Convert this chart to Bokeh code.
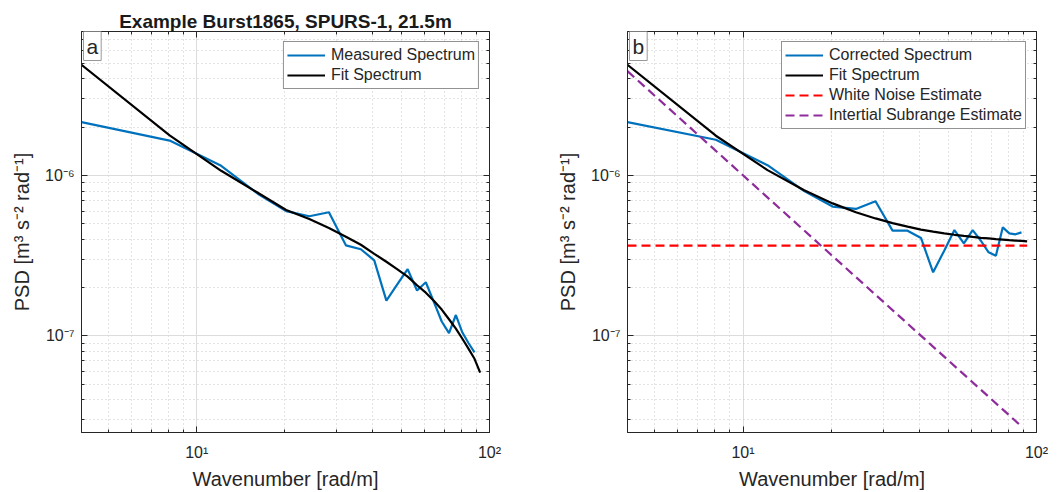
from bokeh.plotting import figure
from bokeh.layouts import row
from bokeh.models import FixedTicker, CustomJSTickFormatter, LogAxis, Label, Range1d
from bokeh.embed import file_html
from bokeh.resources import INLINE

# ---------------- data ----------------
k = [4.04, 8.08, 12.12, 16.16, 20.2, 24.24, 28.28, 32.32, 36.36, 40.4, 44.44,
     48.48, 52.52, 56.56, 60.6, 64.64, 68.68, 72.72, 76.76, 80.8, 84.84, 88.88]
k_fit = [4.04, 8.08, 12.12, 16.16, 20.2, 24.24, 28.28, 32.32, 36.36, 40.4, 44.44,
         48.48, 52.52, 56.56, 60.6, 64.64, 68.68, 72.72, 76.76, 80.8, 84.84, 88.88, 92.92]

measured = [2.15e-6, 1.65e-6, 1.15e-6, 7.7e-7, 6.0e-7, 5.57e-7, 5.9e-7, 3.67e-7,
            3.47e-7, 2.96e-7, 1.66e-7, 2.1e-7, 2.61e-7, 1.92e-7, 2.16e-7, 1.62e-7,
            1.23e-7, 1.04e-7, 1.35e-7, 1.05e-7, 9.0e-8, 7.9e-8]
fit_a = [4.9e-6, 1.78e-6, 1.07e-6, 7.8e-7, 6.1e-7, 5.35e-7, 4.7e-7, 4.15e-7, 3.7e-7,
         3.25e-7, 2.9e-7, 2.6e-7, 2.34e-7, 2.07e-7, 1.86e-7, 1.65e-7, 1.46e-7, 1.27e-7,
         1.11e-7, 9.6e-8, 8.3e-8, 7.2e-8, 5.9e-8]

corrected = [2.15e-6, 1.67e-6, 1.16e-6, 8.0e-7, 6.4e-7, 6.19e-7, 6.91e-7, 4.53e-7,
             4.53e-7, 4.08e-7, 2.49e-7, 3.4e-7, 4.57e-7, 3.77e-7, 4.57e-7, 3.92e-7,
             3.32e-7, 3.16e-7, 4.75e-7, 4.36e-7, 4.3e-7, 4.42e-7]
fit_b = [4.9e-6, 1.77e-6, 1.08e-6, 8.1e-7, 6.7e-7, 5.9e-7, 5.4e-7, 5.05e-7, 4.8e-7,
         4.6e-7, 4.47e-7, 4.36e-7, 4.27e-7, 4.2e-7, 4.14e-7, 4.09e-7, 4.05e-7, 4.01e-7,
         3.98e-7, 3.95e-7, 3.93e-7, 3.91e-7, 3.89e-7]
noise_k = [4.04, 92.92]
noise = [3.65e-7, 3.65e-7]
isr_k = [4.04, 88.1]
isr = [4.47e-6, 2.77e-8]

x_major = [10, 100]
x_minor = [5, 6, 7, 8, 9, 20, 30, 40, 50, 60, 70, 80, 90]
y_major = [1e-7, 1e-6]
y_minor = [3e-8, 4e-8, 5e-8, 6e-8, 7e-8, 8e-8, 9e-8,
           2e-7, 3e-7, 4e-7, 5e-7, 6e-7, 7e-7, 8e-7, 9e-7,
           2e-6, 3e-6, 4e-6, 5e-6, 6e-6, 7e-6]

X_RANGE = (4.04, 100)
Y_RANGE = (2.5e-8, 7.9e-6)

FONT = "Liberation Sans"
BLUE = "#0072BD"
RED = "#FF0000"
PURPLE = "#8E2C9C"

SUP_JS = """
const m = {'-':'\u207b','0':'\u2070','1':'\u00b9','2':'\u00b2','3':'\u00b3','4':'\u2074',
           '5':'\u2075','6':'\u2076','7':'\u2077','8':'\u2078','9':'\u2079'};
const e = Math.round(Math.log10(tick));
return '10' + String(e).split('').map(c => m[c]).join('');
"""
BLANK_JS = "return '';"


def make_fig(width, border_left, border_right, letter):
    p = figure(width=width, height=492, x_axis_type="log", y_axis_type="log",
               x_range=Range1d(*X_RANGE), y_range=Range1d(*Y_RANGE),
               output_backend="svg", toolbar_location=None,
               min_border_left=border_left, min_border_right=border_right,
               min_border_top=31, min_border_bottom=60)
    p.background_fill_color = "white"
    p.border_fill_color = "white"
    p.outline_line_color = "#262626"
    p.outline_line_width = 1
    p.outline_line_alpha = 1

    xt = FixedTicker(ticks=x_major, minor_ticks=x_minor)
    yt = FixedTicker(ticks=y_major, minor_ticks=y_minor)

    xa = p.xaxis[0]
    ya = p.yaxis[0]
    xa.ticker = xt
    ya.ticker = yt
    xa.formatter = CustomJSTickFormatter(code=SUP_JS)
    ya.formatter = CustomJSTickFormatter(code=SUP_JS)
    xa.axis_label = "Wavenumber [rad/m]"
    ya.axis_label = "PSD [m\u00b3 s\u207b\u00b2 rad\u207b\u00b9]"
    for ax in (xa, ya):
        ax.axis_label_text_font = FONT
        ax.axis_label_text_font_size = "20px"
        ax.axis_label_text_font_style = "normal"
        ax.axis_label_text_color = "#262626"
        ax.major_label_text_font = FONT
        ax.major_label_text_font_size = "16px"
        ax.major_label_text_color = "#262626"
        ax.axis_line_color = "#262626"
        ax.major_tick_in = 6
        ax.major_tick_out = 0
        ax.minor_tick_in = 3
        ax.minor_tick_out = 0
        ax.major_tick_line_color = "#262626"
        ax.minor_tick_line_color = "#262626"
    xa.major_label_standoff = 11
    xa.axis_label_standoff = 4
    ya.major_label_standoff = 7
    ya.axis_label_standoff = 9

    # box ticks on top and right
    for loc, tk in (("above", xt), ("right", yt)):
        ax = LogAxis(ticker=tk, formatter=CustomJSTickFormatter(code=BLANK_JS),
                     major_label_standoff=0, major_label_text_font_size="2px",
                     major_label_text_alpha=0,
                     major_tick_in=6, major_tick_out=0, minor_tick_in=3, minor_tick_out=0,
                     axis_line_color="#262626", major_tick_line_color="#262626",
                     minor_tick_line_color="#262626")
        p.add_layout(ax, loc)

    for g in (p.xgrid[0], p.ygrid[0]):
        g.grid_line_color = "#dcdcdc"
        g.grid_line_width = 1
        g.minor_grid_line_color = "#c8c8c8"
        g.minor_grid_line_dash = "1 3"
        g.minor_grid_line_width = 1
    p.xgrid[0].ticker = xt
    p.ygrid[0].ticker = yt

    lab = Label(x=X_RANGE[0], y=Y_RANGE[1], text=letter, text_align="left",
                text_baseline="top", x_offset=2, y_offset=0,
                text_font=FONT, text_font_size="21px", text_color="#262626",
                background_fill_color="white", border_line_color="#999999",
                border_line_width=1, padding=3)
    p.add_layout(lab)
    return p


def style_legend(p):
    lg = p.legend[0]
    lg.location = "top_right"
    lg.margin = 10
    lg.padding = 3
    lg.spacing = 0
    lg.label_height = 20
    lg.glyph_height = 20
    lg.glyph_width = 38
    lg.label_standoff = 6
    lg.label_text_font = FONT
    lg.label_text_font_size = "16px"
    lg.label_text_color = "#262626"
    lg.border_line_color = "#262626"
    lg.border_line_width = 1
    lg.background_fill_color = "white"
    lg.background_fill_alpha = 1


pa = make_fig(530, 81, 41, "a")
pa.title.text = "Example Burst1865, SPURS-1, 21.5m"
pa.title.align = "center"
pa.title.text_font = FONT
pa.title.text_font_size = "19px"
pa.title.text_font_style = "bold"
pa.title.text_color = "#1a1a1a"
pa.title.standoff = 0
pa.line(k, measured, line_color=BLUE, line_width=2.2, legend_label="Measured Spectrum")
pa.line(k_fit, fit_a, line_color="black", line_width=2.2, legend_label="Fit Spectrum")
style_legend(pa)

pb = make_fig(529, 97, 23, "b")
pb.line(k, corrected, line_color=BLUE, line_width=2.2, legend_label="Corrected Spectrum")
pb.line(k_fit, fit_b, line_color="black", line_width=2.2, legend_label="Fit Spectrum")
pb.line(noise_k, noise, line_color=RED, line_width=2.2, line_dash="9 5",
        legend_label="White Noise Estimate")
pb.line(isr_k, isr, line_color=PURPLE, line_width=2.2, line_dash="9 5",
        legend_label="Intertial Subrange Estimate")
style_legend(pb)

layout = row(pa, pb)
open("out.html", "w").write(file_html(layout, INLINE))
